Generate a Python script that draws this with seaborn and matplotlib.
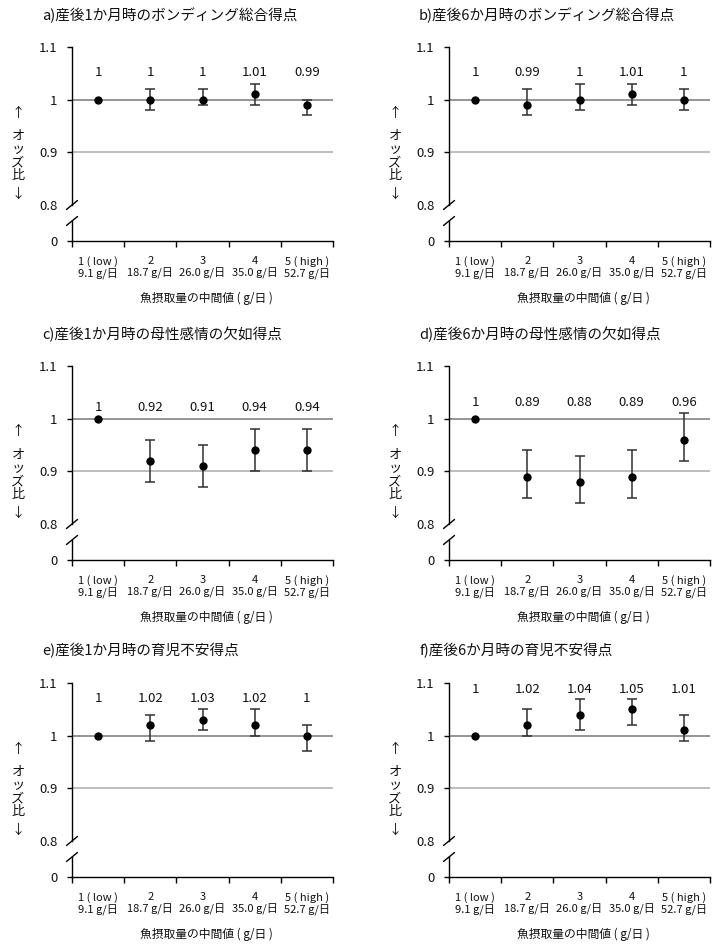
import numpy as np
import pandas as pd
import matplotlib
matplotlib.use("Agg")
import matplotlib.pyplot as plt
import seaborn as sns

# ---------------- data ----------------
categories = ["1 ( low )", "2", "3", "4", "5 ( high )"]
intake = ["9.1 g/日", "18.7 g/日", "26.0 g/日", "35.0 g/日", "52.7 g/日"]
xlabel_text = "魚摂取量の中間値 ( g/日 )"
ylabel_text = "オッズ比"

titles = [
    "a)産後1か月時のボンディング総合得点",
    "b)産後6か月時のボンディング総合得点",
    "c)産後1か月時の母性感情の欠如得点",
    "d)産後6か月時の母性感情の欠如得点",
    "e)産後1か月時の育児不安得点",
    "f)産後6か月時の育児不安得点",
]

or_a = [1.00, 1.00, 1.00, 1.01, 0.99]
lo_a = [1.00, 0.98, 0.99, 0.99, 0.97]
hi_a = [1.00, 1.02, 1.02, 1.03, 1.00]

or_b = [1.00, 0.99, 1.00, 1.01, 1.00]
lo_b = [1.00, 0.97, 0.98, 0.99, 0.98]
hi_b = [1.00, 1.02, 1.03, 1.03, 1.02]

or_c = [1.00, 0.92, 0.91, 0.94, 0.94]
lo_c = [1.00, 0.88, 0.87, 0.90, 0.90]
hi_c = [1.00, 0.96, 0.95, 0.98, 0.98]

or_d = [1.00, 0.89, 0.88, 0.89, 0.96]
lo_d = [1.00, 0.85, 0.84, 0.85, 0.92]
hi_d = [1.00, 0.94, 0.93, 0.94, 1.01]

or_e = [1.00, 1.02, 1.03, 1.02, 1.00]
lo_e = [1.00, 0.99, 1.01, 1.00, 0.97]
hi_e = [1.00, 1.04, 1.05, 1.05, 1.02]

or_f = [1.00, 1.02, 1.04, 1.05, 1.01]
lo_f = [1.00, 1.00, 1.01, 1.02, 0.99]
hi_f = [1.00, 1.05, 1.07, 1.07, 1.04]

# height (in data units) of the value labels in each panel
label_y = [1.051, 1.051, 1.022, 1.030, 1.070, 1.087]

series = [
    (or_a, lo_a, hi_a), (or_b, lo_b, hi_b),
    (or_c, lo_c, hi_c), (or_d, lo_d, hi_d),
    (or_e, lo_e, hi_e), (or_f, lo_f, hi_f),
]

# ---------------- style ----------------
sns.set_theme(style="white")
FONTS = ["Noto Sans CJK JP", "DejaVu Sans"]
plt.rcParams["font.family"] = FONTS
plt.rcParams["axes.unicode_minus"] = False

W, H = 720, 950
fig = plt.figure(figsize=(W / 100, H / 100), dpi=100)


def rect(x, y_top, w, h):
    return [x / W, 1 - (y_top + h) / H, w / W, h / H]


col_x = [72, 449]
ax_w = 261
row_top = [47, 366, 683]      # pixel y of 1.1
up_h = 158                    # 1.1 -> 0.8
low_gap = 16                  # 0.8 -> top of lower axis
low_h = 20                    # lower axis height

positions = np.arange(1, len(categories) + 1)
ticklabels = [f"{c}\n{g}" for c, g in zip(categories, intake)]

TXT = "#111111"

for i, (title, (orv, lov, hiv)) in enumerate(zip(titles, series)):
    r, c = divmod(i, 2)
    x0 = col_x[c]
    yt = row_top[r]

    ax = fig.add_axes(rect(x0, yt, ax_w, up_h))
    axl = fig.add_axes(rect(x0, yt + up_h + low_gap, ax_w, low_h))

    orv = np.asarray(orv)
    lov = np.asarray(lov)
    hiv = np.asarray(hiv)

    # reference lines
    ax.axhline(1.0, color="#8c8c8c", lw=1.3, zorder=1)
    ax.axhline(0.9, color="#b8b8b8", lw=1.3, zorder=1)

    # error bars (only where an interval exists)
    mask = hiv > lov
    ax.errorbar(positions[mask], orv[mask],
                yerr=[orv[mask] - lov[mask], hiv[mask] - orv[mask]],
                fmt="none", ecolor="#303030", elinewidth=1.1,
                capsize=3.6, capthick=1.1, zorder=3)

    df = pd.DataFrame({"pos": positions, "or": orv})
    sns.scatterplot(data=df, x="pos", y="or", ax=ax, color="black",
                    s=36, linewidth=0, zorder=4, legend=False)

    for p, v in zip(positions, orv):
        ax.text(p, label_y[i], f"{v:g}", ha="center", va="center",
                fontsize=9.5, color=TXT)

    # upper axis formatting
    ax.set_xlim(0.5, len(categories) + 0.5)
    ax.set_ylim(0.8, 1.1)
    ax.set_yticks([0.8, 0.9, 1.0, 1.1])
    ax.set_yticklabels(["0.8", "0.9", "1", "1.1"])
    ax.set_xticks([])
    ax.set_xlabel("")
    ax.set_ylabel("")
    for s in ["top", "right", "bottom"]:
        ax.spines[s].set_visible(False)
    ax.spines["left"].set_color("black")
    ax.spines["left"].set_linewidth(1.0)
    ax.tick_params(axis="y", left=True, length=3.5, width=1.0,
                   color="black", pad=7, labelsize=9.5, labelcolor=TXT)
    ax.yaxis.get_major_ticks()[0].tick1line.set_visible(False)
    ax.patch.set_alpha(0)

    # lower axis (0 part of broken axis)
    axl.set_xlim(0.5, len(categories) + 0.5)
    axl.set_ylim(0, 1)
    axl.set_yticks([0])
    axl.set_yticklabels(["0"])
    axl.set_xticks(positions)
    axl.set_xticklabels(ticklabels, fontsize=8, linespacing=1.15,
                        color=TXT)
    axl.set_xticks(np.arange(0.5, len(categories) + 1.0, 1.0), minor=True)
    axl.tick_params(axis="x", which="major", length=0, pad=11)
    axl.tick_params(axis="x", which="minor", bottom=True, length=4,
                    width=1.0, color="black")
    axl.tick_params(axis="y", left=True, length=3.5, width=1.0,
                    color="black", pad=7, labelsize=9.5, labelcolor=TXT)
    for s in ["top", "right"]:
        axl.spines[s].set_visible(False)
    for s in ["left", "bottom"]:
        axl.spines[s].set_color("black")
        axl.spines[s].set_linewidth(1.0)
    axl.patch.set_alpha(0)

    # break marks
    dx = 5.5 / ax_w
    ax.plot([-dx, dx], [-4.5 / up_h, 4.5 / up_h], transform=ax.transAxes,
            color="black", lw=1.0, clip_on=False)
    axl.plot([-dx, dx], [1 - 4.5 / low_h, 1 + 4.5 / low_h],
             transform=axl.transAxes, color="black", lw=1.0, clip_on=False)

    # title
    fig.text((x0 - 30) / W, 1 - (yt - 32) / H, title, ha="left", va="center",
             fontsize=10.5, color=TXT)

    # x label
    fig.text((x0 + ax_w / 2 + 4) / W, 1 - (yt + 251) / H, xlabel_text,
             ha="center", va="center", fontsize=8.5, color=TXT)

    # y label: arrows + vertically stacked characters
    lx = (x0 - 54) / W
    fig.text(lx, 1 - (yt + 66) / H, "↑", ha="center", va="center",
             fontsize=9.5, family=FONTS, color=TXT)
    fig.text(lx, 1 - (yt + 109) / H, "\n".join(ylabel_text), ha="center",
             va="center", fontsize=9.5, linespacing=1.0, family=FONTS,
             color=TXT)
    fig.text(lx, 1 - (yt + 147) / H, "↓", ha="center", va="center",
             fontsize=9.5, family=FONTS, color=TXT)

fig.savefig("out.png", dpi=100, facecolor="white")
